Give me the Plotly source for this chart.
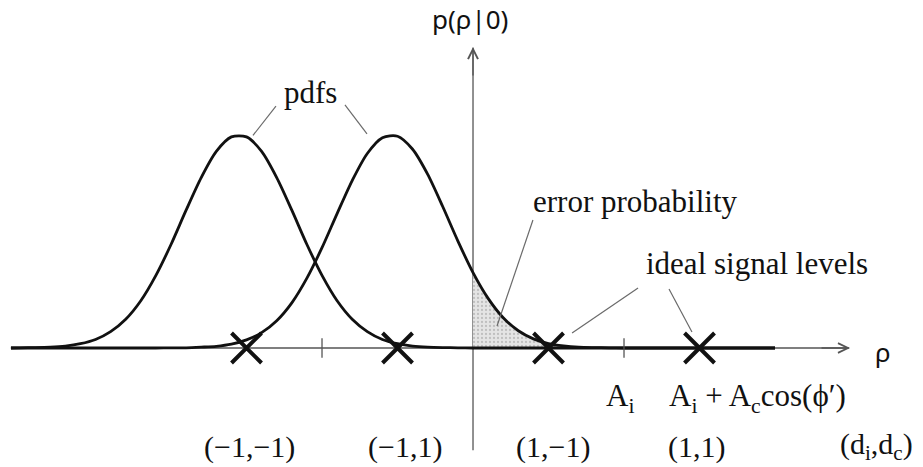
import plotly.graph_objects as go

# Sampling grid along rho (in units of A_i) and the two conditional pdf curves
rho = [-3.06, -3.0, -2.9, -2.8, -2.7, -2.6, -2.5, -2.4, -2.3, -2.2, -2.1,
       -2.0, -1.9, -1.8, -1.7, -1.6, -1.5, -1.4, -1.3, -1.2, -1.1,
       -1.0, -0.9, -0.8, -0.7, -0.6, -0.5, -0.4, -0.3, -0.2, -0.1,
       0.0, 0.1, 0.2, 0.3, 0.4, 0.5, 0.6, 0.7, 0.8, 0.9,
       1.0, 1.1, 1.2, 1.3, 1.4, 1.5, 1.6, 1.7, 1.8, 1.9, 2.0]

pdf_left = [0.000, 0.001, 0.002, 0.004, 0.009, 0.020, 0.040, 0.077, 0.135, 0.222, 0.341,
            0.486, 0.647, 0.800, 0.923, 0.991, 0.991, 0.923, 0.800, 0.647, 0.486,
            0.341, 0.222, 0.135, 0.077, 0.040, 0.020, 0.009, 0.004, 0.002, 0.001,
            0.000, 0.000, 0.000, 0.000, 0.000, 0.000, 0.000, 0.000, 0.000, 0.000,
            0.000, 0.000, 0.000, 0.000, 0.000, 0.000, 0.000, 0.000, 0.000, 0.000, 0.000]

pdf_right = [0.000, 0.000, 0.000, 0.000, 0.000, 0.000, 0.000, 0.000, 0.000, 0.000, 0.000,
             0.001, 0.001, 0.004, 0.008, 0.018, 0.038, 0.072, 0.128, 0.212, 0.328,
             0.471, 0.631, 0.786, 0.913, 0.987, 0.994, 0.933, 0.815, 0.663, 0.502,
             0.354, 0.233, 0.142, 0.081, 0.043, 0.021, 0.010, 0.004, 0.002, 0.001,
             0.000, 0.000, 0.000, 0.000, 0.000, 0.000, 0.000, 0.000, 0.000, 0.000, 0.000]

# Ideal signal levels (d_i, d_c) and the A_i ticks
signal_levels = [-1.5, -0.5, 0.5, 1.5]
level_labels = ["(\u22121,\u22121)", "(\u22121,1)", "(1,\u22121)", "(1,1)"]
level_label_x = [-1.48, -0.45, 0.53, 1.48]
tick_positions = [-1.0, 1.0]

SERIF = "Liberation Serif, Times New Roman, serif"
SANS = "Noto Sans, DejaVu Sans, sans-serif"
INK = "#111111"
AXIS = "#555555"
LEADER = "#6a6a6a"
FS = 31
FS_BOTTOM = 30

fig = go.Figure()

# Error-probability region: tail of the right pdf beyond the decision threshold
tail_x = [r for r in rho if 0.0 <= r <= 0.9]
tail_y = [v for r, v in zip(rho, pdf_right) if 0.0 <= r <= 0.9]
fig.add_trace(go.Scatter(
    x=tail_x, y=tail_y, mode="lines", line=dict(width=0, shape="spline"),
    fill="tozeroy", fillcolor="#e2e2e2",
    fillpattern=dict(shape=".", fgcolor="#9a9a9a", bgcolor="#e4e4e4", size=4, solidity=0.25),
    hoverinfo="skip", showlegend=False))

# The two pdfs
for vals in (pdf_left, pdf_right):
    fig.add_trace(go.Scatter(
        x=rho, y=vals, mode="lines",
        line=dict(color=INK, width=2.8, shape="spline", smoothing=0.8),
        hoverinfo="skip", showlegend=False))

# Small ticks at +/- A_i
fig.add_trace(go.Scatter(
    x=tick_positions, y=[0] * len(tick_positions), mode="markers",
    marker=dict(symbol="line-ns", size=14, line=dict(color=AXIS, width=1.3)),
    hoverinfo="skip", showlegend=False))

# Ideal signal level crosses
fig.add_trace(go.Scatter(
    x=signal_levels, y=[0] * len(signal_levels), mode="markers",
    marker=dict(symbol="x-thin", size=30, line=dict(color=INK, width=4)),
    hoverinfo="skip", showlegend=False))

shapes = [
    # axes
    dict(type="line", x0=-3.06, y0=0, x1=2.49, y1=0, line=dict(color=AXIS, width=1.3), layer="below"),
    dict(type="line", x0=0, y0=-0.48, x1=0, y1=1.41, line=dict(color=AXIS, width=1.3), layer="below"),
    # leader lines
    dict(type="line", x0=-1.305, y0=1.136, x1=-1.457, y1=0.998, line=dict(color=LEADER, width=1.2)),
    dict(type="line", x0=-0.848, y0=1.141, x1=-0.702, y1=1.005, line=dict(color=LEADER, width=1.2)),
    dict(type="line", x0=0.397, y0=0.601, x1=0.159, y1=0.103, line=dict(color=LEADER, width=1.2)),
    dict(type="line", x0=1.093, y0=0.282, x1=0.656, y1=0.070, line=dict(color=LEADER, width=1.2)),
    dict(type="line", x0=1.298, y0=0.277, x1=1.450, y1=0.075, line=dict(color=LEADER, width=1.2)),
]

annotations = [
    # arrow heads on the axes
    dict(x=2.497, y=0, ax=-30, ay=0, text="", showarrow=True, arrowhead=5,
         arrowsize=1.5, arrowwidth=1.3, arrowcolor=AXIS, standoff=0),
    dict(x=0, y=1.413, ax=0, ay=30, text="", showarrow=True, arrowhead=5,
         arrowsize=1.5, arrowwidth=1.3, arrowcolor=AXIS, standoff=0),
    # axis titles
    dict(x=-0.02, y=1.545, text="p(\u03c1|0)", showarrow=False, font=dict(family=SANS, size=26, color=INK)),
    dict(x=2.715, y=-0.019, text="\u03c1", showarrow=False, font=dict(family=SANS, size=26, color=INK)),
    # callouts
    dict(x=-1.079, y=1.198, text="pdfs", showarrow=False, font=dict(family=SERIF, size=FS, color=INK)),
    dict(x=1.079, y=0.688, text="error probability", showarrow=False, font=dict(family=SERIF, size=FS, color=INK)),
    dict(x=1.881, y=0.396, text="ideal signal levels", showarrow=False, font=dict(family=SERIF, size=FS, color=INK)),
    # level annotations under the axis
    dict(x=0.973, y=-0.235, text="A<sub>i</sub>", showarrow=False, font=dict(family=SERIF, size=FS, color=INK)),
    dict(x=1.881, y=-0.235, text="A<sub>i</sub> + A<sub>c</sub>cos(\u03d5\u2032)", showarrow=False,
         font=dict(family=SERIF, size=FS, color=INK)),
    dict(x=2.675, y=-0.462, text="(d<sub>i</sub>,d<sub>c</sub>)", showarrow=False,
         font=dict(family=SERIF, size=FS_BOTTOM, color=INK)),
]
for lx, lab in zip(level_label_x, level_labels):
    annotations.append(dict(x=lx, y=-0.466, text=lab, showarrow=False,
                            font=dict(family=SERIF, size=FS_BOTTOM, color=INK)))

fig.update_layout(
    width=923, height=467,
    margin=dict(l=0, r=0, t=0, b=0),
    paper_bgcolor="white", plot_bgcolor="white",
    xaxis=dict(range=[-3.1325, 2.9801], visible=False, fixedrange=True),
    yaxis=dict(range=[-0.5587, 1.6338], visible=False, fixedrange=True),
    shapes=shapes, annotations=annotations,
)

fig.write_html("out.html")
